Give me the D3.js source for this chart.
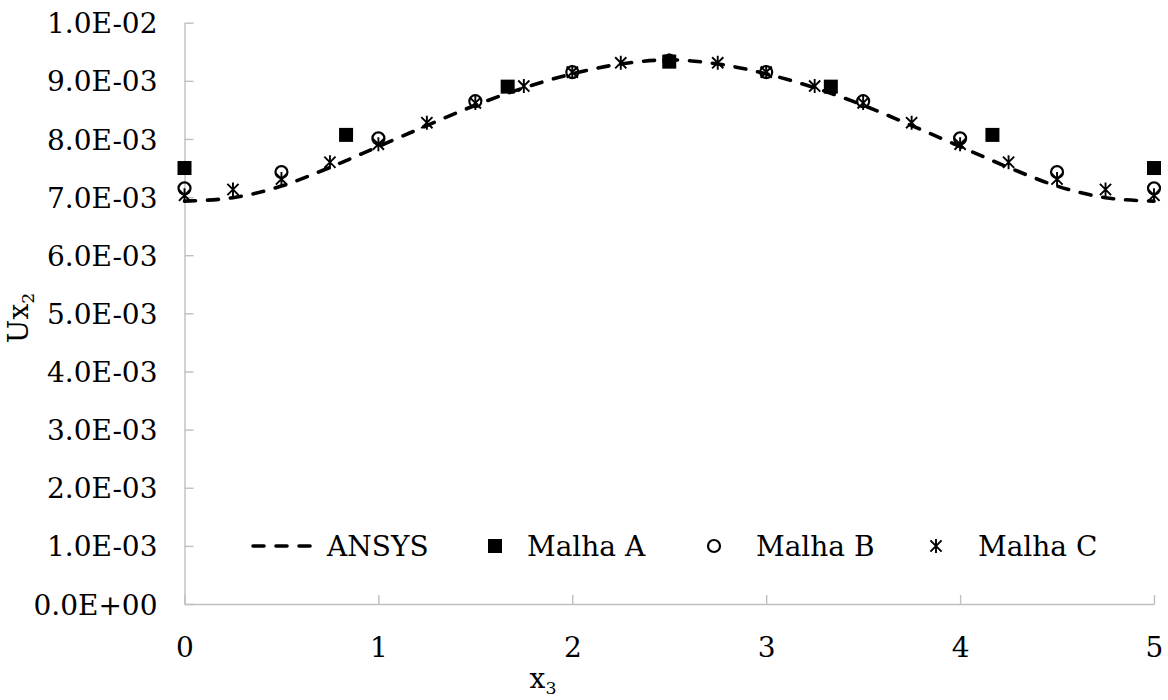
<!DOCTYPE html>
<html>
<head>
<meta charset="utf-8">
<script src="https://cdn.jsdelivr.net/npm/d3@7"></script>
<style>
  html, body { margin: 0; padding: 0; background: #fff; }
  svg { display: block; }
  text { font-family: "DejaVu Serif", "Liberation Serif", serif; fill: #000; }
</style>
</head>
<body>
<svg id="chart" width="1168" height="700"></svg>
<script>
// ---- data ----
const xTicks = [0, 1, 2, 3, 4, 5];
const yTicks = [0, 0.001, 0.002, 0.003, 0.004, 0.005, 0.006, 0.007, 0.008, 0.009, 0.010];
const yTickLabels = ["0.0E+00","1.0E-03","2.0E-03","3.0E-03","4.0E-03","5.0E-03","6.0E-03","7.0E-03","8.0E-03","9.0E-03","1.0E-02"];

const ansysX = [0, 0.25, 0.5, 0.75, 1, 1.25, 1.5, 1.75, 2, 2.25, 2.5, 2.75, 3, 3.25, 3.5, 3.75, 4, 4.25, 4.5, 4.75, 5];
const ansysY = [6.93e-3, 6.99e-3, 7.19e-3, 7.51e-3, 7.87e-3, 8.23e-3, 8.58e-3, 8.88e-3, 9.12e-3, 9.29e-3, 9.36e-3,
                9.29e-3, 9.12e-3, 8.88e-3, 8.58e-3, 8.23e-3, 7.87e-3, 7.51e-3, 7.19e-3, 6.99e-3, 6.93e-3];

const malhaAX = [0, 0.8333, 1.6667, 2.5, 3.3333, 4.1667, 5];
const malhaAY = [7.50e-3, 8.07e-3, 8.90e-3, 9.33e-3, 8.90e-3, 8.07e-3, 7.50e-3];

const malhaBX = [0, 0.5, 1, 1.5, 2, 2.5, 3, 3.5, 4, 4.5, 5];
const malhaBY = [7.15e-3, 7.43e-3, 8.01e-3, 8.65e-3, 9.15e-3, 9.35e-3, 9.15e-3, 8.65e-3, 8.01e-3, 7.43e-3, 7.15e-3];

const malhaCX = [0, 0.25, 0.5, 0.75, 1, 1.25, 1.5, 1.75, 2, 2.25, 2.5, 2.75, 3, 3.25, 3.5, 3.75, 4, 4.25, 4.5, 4.75, 5];
const malhaCY = [7.03e-3, 7.13e-3, 7.31e-3, 7.60e-3, 7.91e-3, 8.28e-3, 8.62e-3, 8.91e-3, 9.15e-3, 9.31e-3, 9.35e-3,
                 9.31e-3, 9.15e-3, 8.91e-3, 8.62e-3, 8.28e-3, 7.91e-3, 7.60e-3, 7.31e-3, 7.13e-3, 7.03e-3];

const legendLabels = ["ANSYS", "Malha A", "Malha B", "Malha C"];

// ---- layout ----
const svg = d3.select("#chart");
const FS = 28;
const axisColor = "#bfbfbf";
const x = d3.scaleLinear().domain([0, 5]).range([184.5, 1154]);
const y = d3.scaleLinear().domain([0, 0.01]).range([604, 22.7]);

// axes
const gx = svg.append("g").attr("transform", `translate(0,${y(0)})`)
  .call(d3.axisBottom(x).tickValues(xTicks).tickSizeInner(-9).tickSizeOuter(0).tickPadding(0).tickFormat(d3.format("d")));
gx.select(".domain").attr("stroke", axisColor).attr("stroke-width", 1.4);
gx.selectAll(".tick line").attr("stroke", axisColor).attr("stroke-width", 1.4);
gx.selectAll(".tick text").attr("font-size", FS).attr("y", 0).attr("dy", "1.9em")
  .style("font-family", '"DejaVu Serif", serif').attr("fill", "#000");

const gy = svg.append("g").attr("transform", `translate(${x(0)},0)`)
  .call(d3.axisLeft(y).tickValues(yTicks).tickSizeInner(-9).tickSizeOuter(0).tickPadding(27)
    .tickFormat((d, i) => yTickLabels[i]));
gy.select(".domain").attr("stroke", axisColor).attr("stroke-width", 1.4);
gy.selectAll(".tick line").attr("stroke", axisColor).attr("stroke-width", 1.4);
gy.selectAll(".tick text").attr("font-size", FS).attr("dy", "0.36em")
  .style("font-family", '"DejaVu Serif", serif').attr("fill", "#000");

// axis titles
const xt = svg.append("text").attr("x", 543).attr("y", 688).attr("text-anchor", "middle").attr("font-size", FS);
xt.append("tspan").text("x");
xt.append("tspan").attr("font-size", FS * 0.62).attr("dy", 6).text("3");

const yt = svg.append("text").attr("transform", "translate(28,318) rotate(-90)").attr("text-anchor", "middle").attr("font-size", FS);
yt.append("tspan").text("Ux");
yt.append("tspan").attr("font-size", FS * 0.62).attr("dy", 6).text("2");

// ---- series ----
const plot = svg.append("g");

const ansysData = ansysX.map((v, i) => [v, ansysY[i]]);
const line = d3.line().x(d => x(d[0])).y(d => y(d[1])).curve(d3.curveMonotoneX);
plot.append("path").datum(ansysData).attr("d", line)
  .attr("fill", "none").attr("stroke", "#000").attr("stroke-width", 3.6)
  .attr("stroke-dasharray", "11,12").attr("stroke-linecap", "round");

function starPath(cx, cy, s) {
  const h = s / 2, d = h * 0.8;
  return `M${cx - d},${cy - d}L${cx + d},${cy + d}M${cx - d},${cy + d}L${cx + d},${cy - d}M${cx},${cy - h}L${cx},${cy + h}`;
}

plot.selectAll("rect.ma").data(malhaAX.map((v, i) => [v, malhaAY[i]])).enter().append("rect")
  .attr("class", "ma")
  .attr("x", d => x(d[0]) - 7).attr("y", d => y(d[1]) - 7)
  .attr("width", 14).attr("height", 14).attr("fill", "#000");

plot.selectAll("circle.mb").data(malhaBX.map((v, i) => [v, malhaBY[i]])).enter().append("circle")
  .attr("class", "mb")
  .attr("cx", d => x(d[0])).attr("cy", d => y(d[1])).attr("r", 6)
  .attr("fill", "none").attr("stroke", "#000").attr("stroke-width", 2.2);

plot.selectAll("path.mc").data(malhaCX.map((v, i) => [v, malhaCY[i]])).enter().append("path")
  .attr("class", "mc")
  .attr("d", d => starPath(x(d[0]), y(d[1]), 14))
  .attr("fill", "none").attr("stroke", "#000").attr("stroke-width", 1.9);

// ---- legend ----
const ly = 546;
const lg = svg.append("g");
lg.append("line").attr("x1", 253).attr("x2", 319).attr("y1", ly).attr("y2", ly)
  .attr("stroke", "#000").attr("stroke-width", 3.6).attr("stroke-dasharray", "11,12")
  .attr("stroke-linecap", "round");
lg.append("text").attr("x", 327).attr("y", ly).attr("dy", "0.36em").attr("font-size", FS).text(legendLabels[0]);

lg.append("rect").attr("x", 488).attr("y", ly - 7).attr("width", 14).attr("height", 14).attr("fill", "#000");
lg.append("text").attr("x", 527).attr("y", ly).attr("dy", "0.36em").attr("font-size", FS).text(legendLabels[1]);

lg.append("circle").attr("cx", 714).attr("cy", ly).attr("r", 6)
  .attr("fill", "none").attr("stroke", "#000").attr("stroke-width", 2.2);
lg.append("text").attr("x", 756).attr("y", ly).attr("dy", "0.36em").attr("font-size", FS).text(legendLabels[2]);

lg.append("path").attr("d", starPath(936, ly, 14)).attr("fill", "none").attr("stroke", "#000").attr("stroke-width", 1.9);
lg.append("text").attr("x", 978).attr("y", ly).attr("dy", "0.36em").attr("font-size", FS).text(legendLabels[3]);
</script>
</body>
</html>
